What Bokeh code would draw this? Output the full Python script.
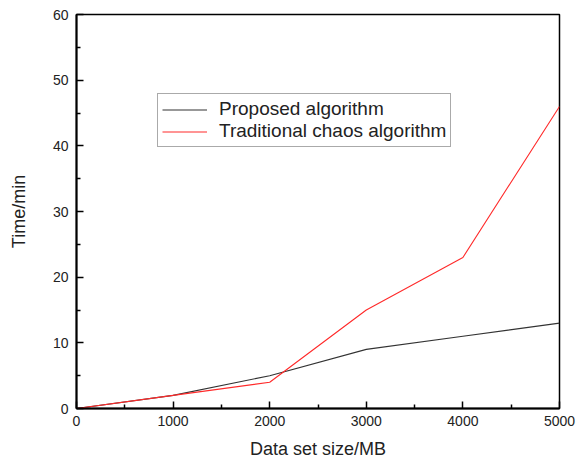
from bokeh.plotting import figure
from bokeh.models import Range1d, Legend, LegendItem, FixedTicker
from bokeh.embed import file_html
from bokeh.resources import INLINE

sizes = [0, 1000, 2000, 3000, 4000, 5000]
proposed = [0, 2, 5, 9, 11, 13]
traditional = [0, 2, 4, 15, 23, 46]
x_ticks = [0, 1000, 2000, 3000, 4000, 5000]
y_ticks = [0, 10, 20, 30, 40, 50, 60]

FONT = "Liberation Sans"

p = figure(width=576, height=461, output_backend="svg", toolbar_location=None,
           x_range=Range1d(0, 5000), y_range=Range1d(0, 60),
           min_border_left=76, min_border_right=17, min_border_top=14, min_border_bottom=53)
p.grid.visible = False
p.outline_line_color = "black"
p.outline_line_width = 1.5

r1 = p.line(sizes, proposed, line_color="#333333", line_width=1.1)
r2 = p.line(sizes, traditional, line_color="#ff2a2a", line_width=1.1)

for ax, ticks in ((p.xaxis[0], x_ticks), (p.yaxis[0], y_ticks)):
    ax.ticker = FixedTicker(ticks=ticks, minor_ticks=[t + (ticks[1] - ticks[0]) / 2 for t in ticks[:-1]])
    ax.axis_line_width = 2
    ax.axis_line_color = "black"
    ax.major_tick_in = 7
    ax.major_tick_out = 0
    ax.minor_tick_in = 4
    ax.minor_tick_out = 0
    ax.major_tick_line_width = 1.5
    ax.minor_tick_line_width = 1.5
    ax.major_label_text_font = FONT
    ax.major_label_text_font_size = "14px"
    ax.major_label_text_color = "#222222"
    ax.axis_label_text_font = FONT
    ax.axis_label_text_font_size = "18px"
    ax.axis_label_text_font_style = "normal"
    ax.axis_label_text_color = "#222222"

p.xaxis.axis_label = "Data set size/MB"
p.yaxis.axis_label = "Time/min"
p.xaxis.major_label_standoff = 7
p.yaxis.major_label_standoff = 8
p.xaxis.axis_label_standoff = 10
p.yaxis.axis_label_standoff = 21

legend = Legend(items=[LegendItem(label="Proposed algorithm", renderers=[r1]),
                       LegendItem(label="Traditional chaos algorithm", renderers=[r2])],
                location=(81, 261), orientation="vertical",
                border_line_color="#555555", border_line_width=1,
                label_text_font=FONT, label_text_font_size="19px", label_text_color="#222222",
                glyph_width=45, glyph_height=15, label_height=15, spacing=0,
                padding=4, margin=0, label_standoff=12)
p.add_layout(legend)

open("out.html", "w").write(file_html(p, INLINE))
